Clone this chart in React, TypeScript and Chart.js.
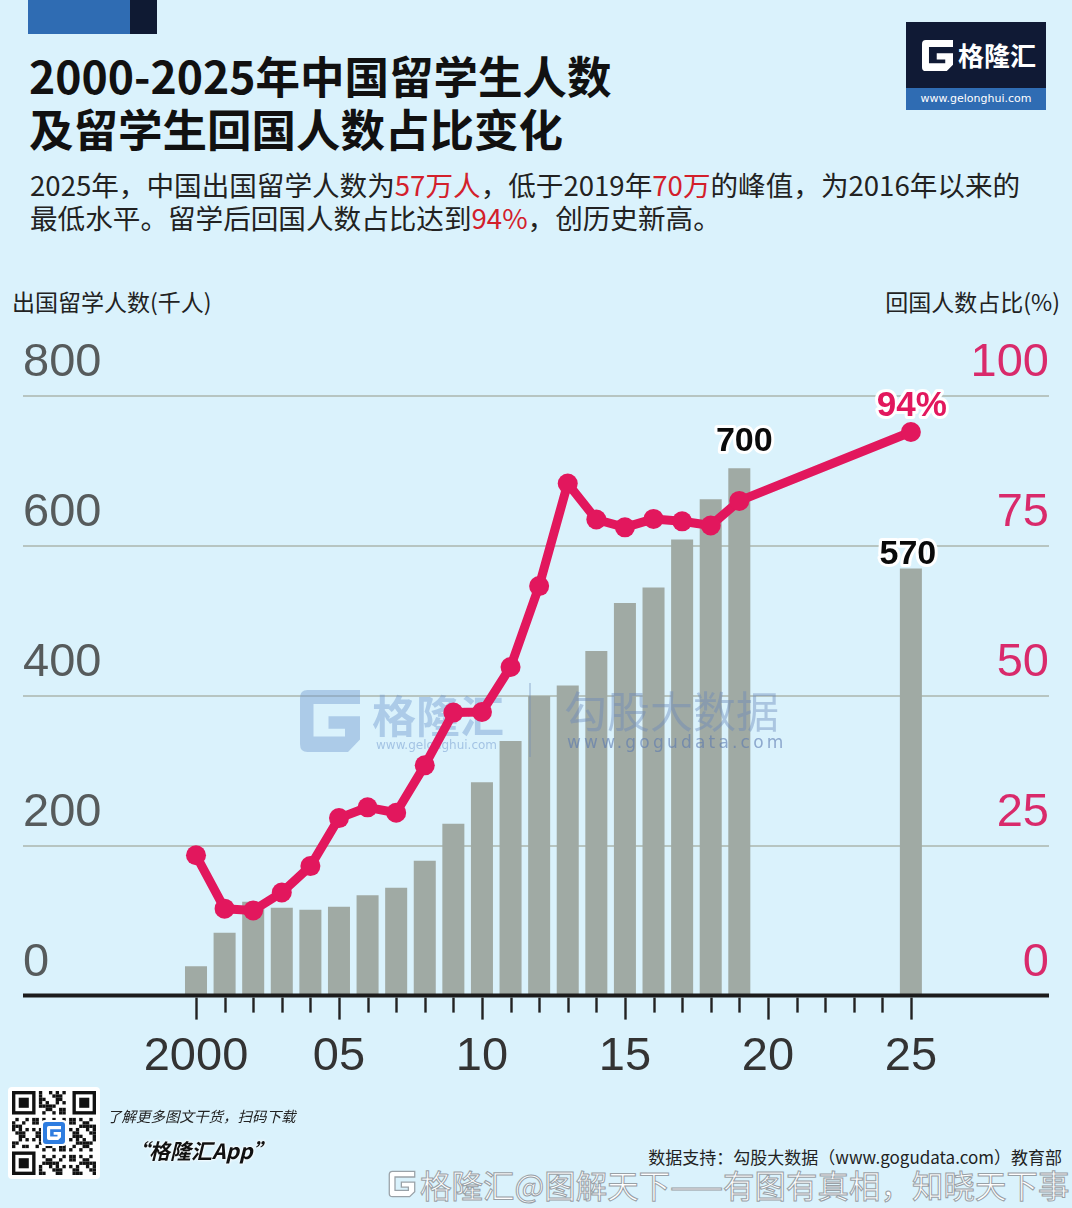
import React, { useEffect, useRef } from 'react';
import { Chart, registerables } from 'chart.js';

Chart.register(...registerables);

// ---------------- data ----------------
const years = [2000, 2001, 2002, 2003, 2004, 2005, 2006, 2007, 2008, 2009, 2010, 2011, 2012, 2013, 2014, 2015, 2016, 2017, 2018, 2019, 2025];
// 出国留学人数 (千人)
const studentsAbroad = [39.0, 84.0, 125.2, 117.3, 114.7, 118.5, 134.0, 144.0, 179.8, 229.3, 284.7, 339.7, 399.6, 413.9, 459.8, 523.7, 544.5, 608.4, 662.1, 703.5, 570];
// 回国人数占比 (%)
const returnRatio = [23.4, 14.5, 14.2, 17.2, 21.6, 29.6, 31.4, 30.5, 38.4, 47.2, 47.3, 54.8, 68.3, 85.4, 79.4, 78.1, 79.5, 79.1, 78.4, 82.5, 94];

const leftTicks = [0, 200, 400, 600, 800];
const rightTicks = [0, 25, 50, 75, 100];
const majorTickYears = [2000, 2005, 2010, 2015, 2020, 2025];
const majorTickLabels = ['2000', '05', '10', '15', '20', '25'];
const firstTickYear = 2000;
const lastTickYear = 2025;

const barCalloutYears = [2019, 2025];
const barCalloutTexts = ['700', '570'];
const lineCalloutYears = [2025];
const lineCalloutTexts = ['94%'];

// ---------------- styles ----------------
const BG = '#daf2fc';
const BAR = '#a0aaa4';
const LINE = '#e2175d';
const RIGHT_LABEL = '#d92a6b';
const LEFT_LABEL = '#565b5c';
const GRID = '#b7c5c1';
const CJK = "'Noto Sans CJK SC', 'Noto Sans', sans-serif";
const TICK_FONT = "'Liberation Sans', Arial, sans-serif";
const barCalloutDx = [5, -3];
const barCalloutDy = [17, 4];
const lineCalloutDy = [16];

const G_PATH = 'M40 0 H5 Q0 0 0 5 V35 Q0 40 5 40 H32 L40 32 V17 H19 V25 H30 V30 H9 V9 H40 Z';

const GIcon = ({ size, color }: { size: number; color: string }) => (
  <svg width={size} height={size} viewBox="0 0 40 40" style={{ display: 'block' }}>
    <path d={G_PATH} fill={color} />
  </svg>
);

const QRCode = () => {
  const n = 25;
  const s = 84 / n;
  const rects: React.ReactNode[] = [];
  const inFinder = (r: number, c: number) =>
    (r < 8 && c < 8) || (r < 8 && c >= n - 8) || (r >= n - 8 && c < 8);
  for (let r = 0; r < n; r++) {
    for (let c = 0; c < n; c++) {
      if (inFinder(r, c)) continue;
      if ((r * 31 + c * 17 + r * c * 7) % 11 < 5) {
        rects.push(<rect key={r + '-' + c} x={4 + c * s} y={4 + r * s} width={s} height={s} fill="#111" />);
      }
    }
  }
  const finder = (x: number, y: number, k: string) => (
    <g key={k}>
      <rect x={x} y={y} width={7 * s} height={7 * s} fill="#111" />
      <rect x={x + s} y={y + s} width={5 * s} height={5 * s} fill="#fff" />
      <rect x={x + 2 * s} y={y + 2 * s} width={3 * s} height={3 * s} fill="#111" />
    </g>
  );
  return (
    <svg width={92} height={92} style={{ display: 'block' }}>
      <rect x={0} y={0} width={92} height={92} rx={4} fill="#fff" />
      {rects}
      {finder(4, 4, 'a')}
      {finder(4 + (n - 7) * s, 4, 'b')}
      {finder(4, 4 + (n - 7) * s, 'c')}
      <rect x={33} y={33} width={26} height={26} rx={4} fill="#fff" />
      <rect x={35} y={35} width={22} height={22} rx={3} fill="#2f7de0" />
      <g transform="translate(39,39) scale(0.35)">
        <path d={G_PATH} fill="#fff" />
      </g>
    </svg>
  );
};

export default function App() {
  const canvasRef = useRef<HTMLCanvasElement | null>(null);

  useEffect(() => {
    document.body.style.margin = '0';
    document.body.style.background = BG;
    const canvas = canvasRef.current;
    if (!canvas) return;

    const axisPlugin = {
      id: 'axisLine',
      afterDatasetsDraw(chart: any) {
        const { ctx, chartArea } = chart;
        const xs = chart.scales.x;
        ctx.save();
        ctx.strokeStyle = '#1c1c1c';
        ctx.lineWidth = 4;
        ctx.beginPath();
        ctx.moveTo(chartArea.left, chartArea.bottom);
        ctx.lineTo(chartArea.right, chartArea.bottom);
        ctx.stroke();
        ctx.lineWidth = 2.4;
        ctx.strokeStyle = '#222';
        for (let y = firstTickYear; y <= lastTickYear; y++) {
          const px = Math.round(xs.getPixelForValue(y)) + 0.5;
          const len = majorTickYears.includes(y) ? 24 : 17;
          ctx.beginPath();
          ctx.moveTo(px, chartArea.bottom + 2);
          ctx.lineTo(px, chartArea.bottom + len);
          ctx.stroke();
        }
        ctx.restore();
      },
    };

    const calloutPlugin = {
      id: 'callouts',
      afterDraw(chart: any) {
        const { ctx } = chart;
        const lineMeta = chart.getDatasetMeta(0);
        const barMeta = chart.getDatasetMeta(1);
        ctx.save();
        ctx.textAlign = 'center';
        ctx.textBaseline = 'alphabetic';
        ctx.lineJoin = 'round';
        ctx.font = "bold 34px 'Liberation Sans', Arial, sans-serif";
        barCalloutYears.forEach((yr, i) => {
          const el = barMeta.data[years.indexOf(yr)];
          if (!el) return;
          const x = el.x + barCalloutDx[i];
          const y = el.y - barCalloutDy[i];
          ctx.strokeStyle = '#ffffff';
          ctx.lineWidth = 6;
          ctx.strokeText(barCalloutTexts[i], x, y);
          ctx.fillStyle = '#0a0a0a';
          ctx.fillText(barCalloutTexts[i], x, y);
        });
        ctx.font = "bold 35px 'Liberation Sans', Arial, sans-serif";
        lineCalloutYears.forEach((yr, i) => {
          const el = lineMeta.data[years.indexOf(yr)];
          if (!el) return;
          const x = el.x + 1;
          const y = el.y - lineCalloutDy[i];
          ctx.strokeStyle = '#ffffff';
          ctx.lineWidth = 6;
          ctx.strokeText(lineCalloutTexts[i], x, y);
          ctx.fillStyle = LINE;
          ctx.fillText(lineCalloutTexts[i], x, y);
        });
        ctx.restore();
      },
    };

    const gPath = new Path2D(G_PATH);
    const watermarkPlugin = {
      id: 'watermark',
      beforeDatasetDraw(chart: any, args: any) {
        if (args.index !== 0) return;
        const { ctx } = chart;
        const top = 300; // canvas page offset
        ctx.save();
        ctx.fillStyle = 'rgba(110,150,205,0.42)';
        ctx.save();
        ctx.translate(300, 690 - top);
        ctx.scale(1.5, 1.55);
        ctx.fill(gPath);
        ctx.restore();
        ctx.font = `bold 44px ${CJK}`;
        ctx.textBaseline = 'middle';
        ctx.textAlign = 'left';
        ctx.fillText('格隆汇', 372, 716 - top);
        ctx.font = `12px 'DejaVu Sans', sans-serif`;
        ctx.fillStyle = 'rgba(110,150,205,0.5)';
        ctx.fillText('www.gelonghui.com', 376, 746 - top);
        ctx.strokeStyle = 'rgba(110,140,185,0.45)';
        ctx.lineWidth = 1.5;
        ctx.beginPath();
        ctx.moveTo(530, 683 - top);
        ctx.lineTo(530, 757 - top);
        ctx.stroke();
        ctx.fillStyle = 'rgba(105,135,185,0.42)';
        ctx.font = `43px ${CJK}`;
        ctx.fillText('勾股大数据', 564, 712 - top);
        ctx.font = `17px 'DejaVu Sans', sans-serif`;
        ctx.fillStyle = 'rgba(90,120,175,0.6)';
        (ctx as any).letterSpacing = '3.2px';
        ctx.fillText('www.gogudata.com', 567, 744 - top);
        ctx.restore();
      },
    };

    const tickLabel = (v: number) => {
      const i = majorTickYears.indexOf(v);
      return i >= 0 ? majorTickLabels[i] : '';
    };

    const chart = new Chart(canvas, {
      data: {
        datasets: [
          {
            type: 'line',
            label: '回国人数占比',
            data: years.map((y, i) => ({ x: y, y: returnRatio[i] })),
            xAxisID: 'x',
            yAxisID: 'yR',
            order: 0,
            borderColor: LINE,
            backgroundColor: LINE,
            borderWidth: 9,
            pointRadius: 10,
            pointBackgroundColor: LINE,
            pointBorderWidth: 0,
            tension: 0,
            borderJoinStyle: 'round',
            borderCapStyle: 'round',
          } as any,
          {
            type: 'bar',
            label: '出国留学人数',
            data: years.map((y, i) => ({ x: y, y: studentsAbroad[i] })),
            xAxisID: 'x',
            yAxisID: 'yL',
            order: 1,
            backgroundColor: BAR,
            barPercentage: 1,
            categoryPercentage: 0.77,
          } as any,
        ],
      },
      options: {
        responsive: false,
        animation: false,
        devicePixelRatio: 1,
        layout: { padding: { left: 23, right: 23, top: 96, bottom: 15 } },
        plugins: { legend: { display: false }, tooltip: { enabled: false } },
        scales: {
          x: {
            type: 'linear',
            offset: false,
            min: 1993.95,
            max: 2029.83,
            grid: { display: false, drawTicks: false, offset: false },
            border: { display: false },
            afterBuildTicks: (axis: any) => {
              const t = [];
              for (let y = firstTickYear; y <= lastTickYear; y++) t.push({ value: y });
              axis.ticks = t;
            },
            ticks: {
              autoSkip: false,
              maxRotation: 0,
              padding: 33,
              color: '#333',
              font: { family: TICK_FONT, size: 47 },
              callback: (v: any) => tickLabel(Number(v)),
            },
          },
          yL: {
            type: 'linear',
            position: 'left',
            min: leftTicks[0],
            max: leftTicks[leftTicks.length - 1],
            afterBuildTicks: (axis: any) => {
              axis.ticks = leftTicks.map((v) => ({ value: v }));
            },
            grid: { color: GRID, lineWidth: 2, drawTicks: false },
            border: { display: false },
            ticks: {
              mirror: true,
              padding: 0,
              labelOffset: -33,
              color: LEFT_LABEL,
              font: { family: TICK_FONT, size: 47 },
            },
          },
          yR: {
            type: 'linear',
            position: 'right',
            min: rightTicks[0],
            max: rightTicks[rightTicks.length - 1],
            afterBuildTicks: (axis: any) => {
              axis.ticks = rightTicks.map((v) => ({ value: v }));
            },
            grid: { display: false, drawTicks: false },
            border: { display: false },
            ticks: {
              mirror: true,
              padding: 0,
              labelOffset: -33,
              color: RIGHT_LABEL,
              font: { family: TICK_FONT, size: 47 },
            },
          },
        },
      } as any,
      plugins: [watermarkPlugin, axisPlugin, calloutPlugin],
    });

    return () => chart.destroy();
  }, []);

  const abs = (s: React.CSSProperties): React.CSSProperties => ({ position: 'absolute', ...s });
  const red = { color: '#d3202b' };

  return (
    <div style={{ position: 'relative', width: 1072, height: 1208, background: BG, overflow: 'hidden', fontFamily: CJK, color: '#1a1a1a' }}>
      <div style={abs({ left: 28, top: 0, width: 102, height: 34, background: '#2f6cb3' })} />
      <div style={abs({ left: 130, top: 0, width: 27, height: 34, background: '#0f1a33' })} />

      <div style={abs({ left: 29, top: 48, fontSize: 44.5, fontWeight: 700, lineHeight: '53px', whiteSpace: 'nowrap', color: '#111' })}>
        2000-2025年中国留学生人数
        <br />
        及留学生回国人数占比变化
      </div>

      <div style={abs({ left: 30, top: 168, fontSize: 27.6, lineHeight: '33px', whiteSpace: 'nowrap', color: '#222' })}>
        2025年，中国出国留学人数为<span style={red}>57万人</span>，低于2019年<span style={red}>70万</span>的峰值，为2016年以来的
        <br />
        最低水平。留学后回国人数占比达到<span style={red}>94%</span>，创历史新高。
      </div>

      {/* logo */}
      <div style={abs({ left: 906, top: 22, width: 140, height: 66, background: '#101a35' })}>
        <div style={abs({ left: 16, top: 18 })}>
          <GIcon size={31} color="#fff" />
        </div>
        <div style={abs({ left: 52, top: 14, fontSize: 26, fontWeight: 700, color: '#fff', lineHeight: '38px', whiteSpace: 'nowrap' })}>格隆汇</div>
      </div>
      <div style={abs({ left: 906, top: 88, width: 140, height: 22, background: '#2f6cb3', color: '#fff', fontSize: 11, lineHeight: '22px', textAlign: 'center', fontFamily: "'DejaVu Sans', sans-serif" })}>
        www.gelonghui.com
      </div>

      <div style={abs({ left: 12, top: 287, fontSize: 23, lineHeight: '28px', whiteSpace: 'nowrap', color: '#222' })}>出国留学人数(千人)</div>
      <div style={abs({ right: 12, top: 287, fontSize: 23, lineHeight: '28px', whiteSpace: 'nowrap', color: '#222' })}>回国人数占比(%)</div>

      <canvas ref={canvasRef} width={1072} height={833} style={abs({ left: 0, top: 300, width: 1072, height: 833 })} />

      {/* footer */}
      <div style={abs({ left: 8, top: 1087 })}>
        <QRCode />
      </div>
      <div style={abs({ left: 107, top: 1105, fontSize: 14.5, fontStyle: 'italic', lineHeight: '22px', whiteSpace: 'nowrap', color: '#222' })}>了解更多图文干货，扫码下载</div>
      <div style={abs({ left: 128, top: 1136, fontSize: 21, fontStyle: 'italic', fontWeight: 700, lineHeight: '28px', whiteSpace: 'nowrap', color: '#111', textShadow: '0 0 3px #fff, 0 0 3px #fff' })}>
        “格隆汇App”
      </div>
      <div style={abs({ right: 10, top: 1145, fontSize: 17, lineHeight: '24px', whiteSpace: 'nowrap', color: '#222' })}>
        数据支持：勾股大数据（www.gogudata.com）教育部
      </div>
      <div style={abs({ left: 388, top: 1167, display: 'flex', alignItems: 'center', whiteSpace: 'nowrap' })}>
        <div style={{ marginRight: 4 }}>
          <svg width={28} height={28} viewBox="-2 -2 44 44" style={{ display: 'block' }}>
            <path d={G_PATH} fill="#fff" stroke="#9aa2a8" strokeWidth={2} />
          </svg>
        </div>
        <div style={{ fontSize: 31.5, lineHeight: '34px', color: '#fff', WebkitTextStroke: '1px #98a0a6' } as any}>
          格隆汇@图解天下——有图有真相，知晓天下事
        </div>
      </div>
    </div>
  );
}
